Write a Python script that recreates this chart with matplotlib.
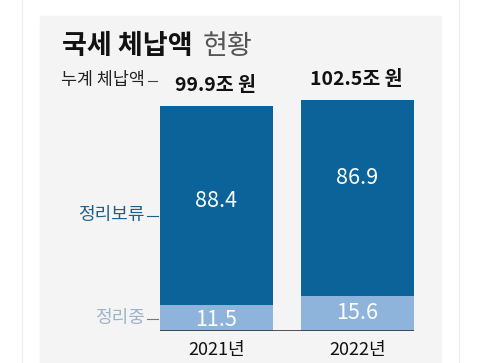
import matplotlib
matplotlib.use("Agg")
import matplotlib.pyplot as plt
from matplotlib.patches import Rectangle
from matplotlib.lines import Line2D

plt.rcParams['font.family'] = ['Noto Sans CJK KR', 'DejaVu Sans']

years = ["2021년", "2022년"]
in_progress = [11.5, 15.6]      # 정리중
on_hold = [88.4, 86.9]          # 정리보류
totals = [99.9, 102.5]          # 누계 체납액
total_labels = ["99.9조 원", "102.5조 원"]

W, H = 480, 363
fig = plt.figure(figsize=(W / 100, H / 100), dpi=100)
fig.patch.set_facecolor("white")

def fx(px):
    return px / W

def fy(py):
    return 1 - py / H

# card borders and gray panel
fig.add_artist(Line2D([fx(22), fx(22)], [0, 1], color="#eeeeee", lw=0.8))
fig.add_artist(Line2D([fx(459), fx(459)], [0, 1], color="#eeeeee", lw=0.8))
fig.add_artist(Rectangle((fx(40), 0), fx(441) - fx(40), fy(16), color="#f4f4f4", zorder=0))

dark = "#0b6399"
light = "#8fb4db"

ax_left, ax_right = 160, 414
ax_bot, ax_top = 331, 16
ax = fig.add_axes([fx(ax_left), fy(ax_bot), fx(ax_right) - fx(ax_left), (ax_bot - ax_top) / H])
ax.set_facecolor("none")
bw = 0.8
x = [0, 1]
ax.set_xlim(-bw / 2, 1 + bw / 2)
ax.set_ylim(0, (ax_bot - ax_top) / 2.25)
ax.bar(x, in_progress, width=bw, color=light, zorder=2)
ax.bar(x, on_hold, bottom=in_progress, width=bw, color=dark, zorder=2)
ax.axhline(0, color="#333333", lw=1.2, zorder=3)
for s in ax.spines.values():
    s.set_visible(False)
ax.set_xticks([])
ax.set_yticks([])

for i in range(2):
    ax.text(x[i], in_progress[i] + on_hold[i] / 2 + (2 if i == 0 else 9), f"{on_hold[i]}",
            ha="center", va="center", color="white", fontsize=15.5, fontweight="medium", zorder=4)
    ax.text(x[i], in_progress[i] / 2 - (1 if i == 0 else 0), f"{in_progress[i]}",
            ha="center", va="center", color="white", fontsize=15.5, fontweight="medium", zorder=4)
    ax.text(x[i], -8.5, years[i], ha="center", va="center", color="#111111", fontsize=13)
    ax.annotate(total_labels[i], xy=(x[i], totals[i]), xytext=(-1, 8),
                textcoords="offset points", ha="center", va="bottom",
                fontsize=14, fontweight="bold", color="#111111")

# title
fig.text(fx(62), fy(46), "국세 체납액", ha="left", va="center", fontsize=19.5,
         fontweight="bold", color="#111111")
fig.text(fx(203), fy(46), "현황", ha="left", va="center", fontsize=19.5,
         fontweight="light", color="#555555")

# left labels
fig.text(fx(145), fy(80), "누계 체납액", ha="right", va="center", fontsize=12.5, color="#222222")
fig.add_artist(Line2D([fx(148), fx(157)], [fy(81), fy(81)], color="#444444", lw=0.8))
fig.text(fx(145), fy(215), "정리보류", ha="right", va="center", fontsize=13, color="#1f5f8b")
fig.add_artist(Line2D([fx(147), fx(158)], [fy(216), fy(216)], color="#1f5f8b", lw=0.8))
fig.text(fx(145), fy(318), "정리중", ha="right", va="center", fontsize=13, color="#9db3c8")
fig.add_artist(Line2D([fx(147), fx(158)], [fy(319), fy(319)], color="#777777", lw=0.8))

fig.savefig("out.png", dpi=100, facecolor="white")
